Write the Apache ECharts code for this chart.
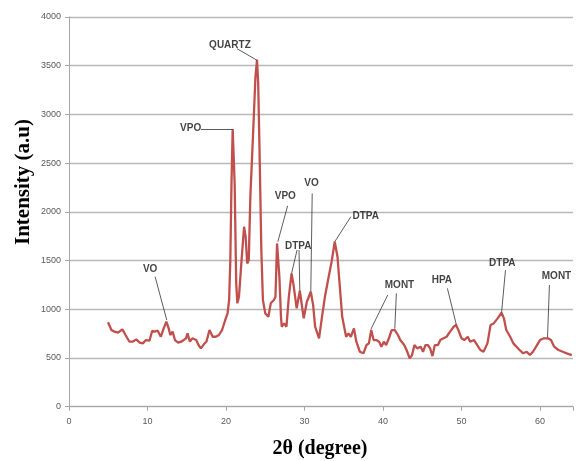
<!DOCTYPE html>
<html><head><meta charset="utf-8">
<script src="https://cdn.jsdelivr.net/npm/echarts@6/dist/echarts.min.js"></script>
<style>html,body{margin:0;padding:0;background:#fff}#c{width:576px;height:461px}</style>
</head><body><div id="c"></div>
<script>
const twoTheta = [4.97,5.4,5.8,6.25,6.8,7.2,7.7,8.1,8.57,9.0,9.4,9.8,10.25,10.6,10.9,11.3,11.7,12.06,12.4,12.7,12.9,13.2,13.5,13.9,14.3,14.55,14.9,15.1,15.4,15.7,16.2,16.5,16.8,17.2,17.5,17.9,18.3,18.7,19.1,19.5,19.9,20.2,20.4,20.55,20.7,20.85,20.95,21.1,21.3,21.45,21.65,21.95,22.3,22.5,22.7,22.9,23.1,23.45,23.75,23.95,24.1,24.27,24.5,24.7,25.0,25.4,25.7,26.1,26.3,26.5,26.6,26.8,27.0,27.1,27.4,27.7,28.0,28.35,28.6,29.0,29.4,29.9,30.3,30.8,31.1,31.35,31.85,32.2,32.6,33.0,33.45,33.85,34.2,34.5,34.8,35.05,35.3,35.6,35.9,36.3,36.6,37.05,37.5,37.9,38.2,38.5,38.8,39.15,39.5,39.8,40.1,40.4,40.75,41.1,41.5,41.9,42.2,42.7,43.0,43.4,43.7,44.0,44.35,44.8,45.1,45.4,45.7,46.0,46.3,46.6,47.0,47.3,47.7,48.1,48.55,49.0,49.3,49.6,50.0,50.35,50.8,51.1,51.6,52.0,52.4,52.8,53.3,53.7,54.1,54.6,55.1,55.4,55.7,56.2,56.6,57.0,57.4,57.85,58.3,58.7,59.1,59.5,60.0,60.5,61.0,61.4,61.8,62.35,62.9,63.4,64.05];
const intensity = [866,787,770,760,794,736,667,667,691,657,650,684,677,780,770,780,718,804,872,804,736,770,684,657,667,650,702,753,667,702,684,633,599,643,667,787,718,718,736,787,890,958,1100,1500,2300,2850,2860,2292,1266,1061,1128,1471,1847,1744,1471,1505,2154,2805,3386,3560,3318,2634,1608,1095,958,923,1061,1095,1128,1676,1693,1334,923,821,855,821,1128,1368,1250,1009,1190,907,1077,1180,1043,821,702,907,1128,1300,1488,1693,1539,1231,923,821,718,753,718,804,667,564,548,633,650,787,684,684,667,616,667,633,702,787,787,736,684,633,582,496,530,633,599,616,564,633,633,599,520,633,633,684,702,718,770,821,838,787,702,684,718,667,684,633,582,564,650,838,855,907,965,907,787,718,650,616,582,548,564,530,564,616,684,702,702,684,616,582,564,548,530];

// tick labels
const xTicks = ['0','10','20','30','40','50','60'];
const yTicks = ['0','500','1000','1500','2000','2500','3000','3500','4000'];

// peak annotations: text and its anchor in data units
const annotText = ['QUARTZ','VPO','VO','VPO','VO','DTPA','DTPA','MONT','HPA','DTPA','MONT'];
const annotX    = [20.5, 15.5, 10.34, 27.55, 30.9, 29.2, 37.8, 42.1, 47.5, 55.2, 62.1];
const annotY    = [3707, 2862, 1410, 2165, 2292, 1649, 1956, 1249, 1300, 1471, 1341];
// leader lines [x1,y1,x2,y2] in data units
const leaders = [
  [21.4,3675,23.96,3555],
  [16.8,2849,20.85,2849],
  [10.97,1334,12.45,890],
  [27.85,2062,26.6,1693],
  [30.98,2189,30.8,1180],
  [29.05,1608,28.35,1368],
  [29.3,1608,29.4,1190],
  [35.9,1950,33.85,1693],
  [40.6,1146,38.45,794],
  [41.7,1163,41.5,800],
  [48.2,1215,49.35,838],
  [55.6,1402,55.1,965],
  [61.2,1249,60.95,710]
];

const chart = echarts.init(document.getElementById('c'), null, {renderer:'canvas'});
const axisGray = '#a6a6a6';
chart.setOption({
  animation:false,
  backgroundColor:'#fff',
  grid:{left:69, top:17, right:0, bottom:54.3, containLabel:false},
  xAxis:{type:'value', min:0, max:64.2, interval:10,
    axisLine:{show:true, lineStyle:{color:axisGray, width:1}},
    axisTick:{show:true, length:4, lineStyle:{color:axisGray}},
    splitLine:{show:false},
    axisLabel:{color:'#595959', fontSize:9, fontFamily:'Liberation Sans, Arial, sans-serif', margin:10,
      formatter:(v)=>{const i=Math.round(v/10); return xTicks[i]!==undefined && Math.abs(v-i*10)<1e-6 ? xTicks[i] : '';}}
  },
  yAxis:{type:'value', min:0, max:4000, interval:500,
    axisLine:{show:true, lineStyle:{color:axisGray, width:1}},
    axisTick:{show:true, length:4, lineStyle:{color:axisGray}},
    splitLine:{show:true, lineStyle:{color:'#b8b8b8', width:1.3}},
    axisLabel:{color:'#595959', fontSize:9, fontFamily:'Liberation Sans, Arial, sans-serif', margin:8,
      formatter:(v)=>{const i=Math.round(v/500); return yTicks[i]!==undefined ? yTicks[i] : '';}}
  },
  graphic:[
    {type:'text', x:24, y:182, rotation:Math.PI/2,
      style:{text:'Intensity (a.u)', font:'bold 21px "Liberation Serif", "Times New Roman", serif', fill:'#000', textAlign:'center', textVerticalAlign:'middle'}},
    {type:'text', x:320, y:449,
      style:{text:'2θ (degree)', font:'bold 20px "Liberation Serif", "Times New Roman", serif', fill:'#000', textAlign:'center', textVerticalAlign:'middle'}}
  ],
  series:[
    {type:'line', data: twoTheta.map((x,i)=>[x,intensity[i]]), showSymbol:false, symbol:'none',
      lineStyle:{color:'#c0504d', width:2.3}, itemStyle:{color:'#c0504d'}, z:3},
    {type:'lines', coordinateSystem:'cartesian2d', z:4, silent:true,
      lineStyle:{color:'#333', width:0.8, opacity:1},
      data: leaders.map(s=>({coords:[[s[0],s[1]],[s[2],s[3]]]}))},
    {type:'scatter', symbolSize:0, z:5, silent:true,
      data: annotText.map((t,i)=>[annotX[i],annotY[i],t]),
      label:{show:true, position:'inside', formatter:(p)=>p.data[2], color:'#111',
        fontSize:10, fontWeight:'bold', fontFamily:'"Liberation Sans Narrow", "Arial Narrow", "Liberation Sans", sans-serif'}}
  ]
});
</script></body></html>
